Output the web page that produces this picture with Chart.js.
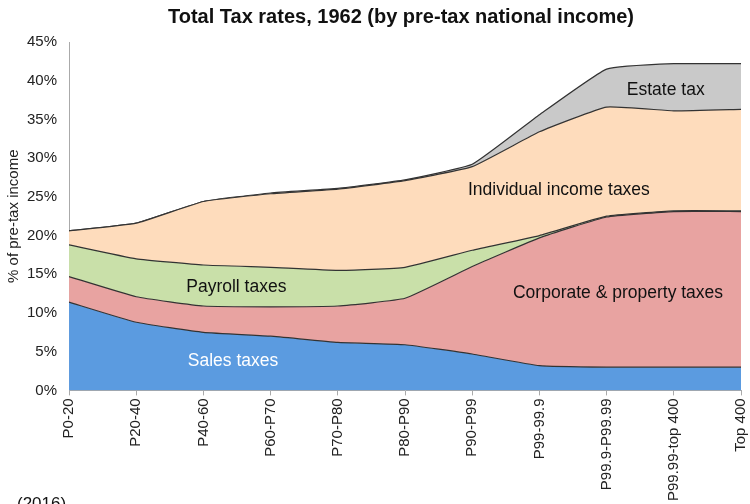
<!DOCTYPE html>
<html>
<head>
<meta charset="utf-8">
<script src="https://cdn.jsdelivr.net/npm/chart.js@4.4.1/dist/chart.umd.min.js"></script>
<style>
  html, body { margin: 0; padding: 0; background: #fff; overflow: hidden; }
  #wrap { position: relative; width: 750px; height: 504px; overflow: hidden; }
  #taxChart { position: absolute; left: 0; top: 0; }
  #title { position: absolute; left: 101px; width: 600px; top: 5px; text-align: center;
           font: bold 20px "Liberation Sans", Arial, sans-serif; color: #111; }
  #note { position: absolute; left: 17px; top: 494px; font: 17px "Liberation Sans", Arial, sans-serif; color: #111; }
</style>
</head>
<body>
<div id="wrap">
  <canvas id="taxChart" width="762" height="504"></canvas>
  <div id="title">Total Tax rates, 1962 (by pre-tax national income)</div>
  <div id="note">(2016)</div>
</div>
<script>
const GROUPS = ['P0-20','P20-40','P40-60','P60-P70','P70-P80','P80-P90','P90-P99','P99-99.9','P99.9-P99.99','P99.99-top 400','Top 400'];

// tax rates, % of pre-tax income (each layer on its own, stacked in the chart)
const salesTaxes     = [11.4, 8.8, 7.5, 7.0, 6.2, 5.9, 4.7, 3.2, 3.0, 3.0, 3.0];
const corporateTaxes = [3.3, 3.3, 3.4, 3.8, 4.7, 6.0, 11.3, 16.5, 19.4, 20.1, 20.1];
const payrollTaxes   = [4.1, 4.9, 5.3, 5.1, 4.6, 4.0, 2.1, 0.3, 0.1, 0.1, 0.1];
const incomeTaxes    = [1.8, 4.6, 8.2, 9.5, 10.5, 11.2, 10.8, 13.4, 14.1, 12.9, 13.1];
const estateTax      = [0.0, 0.0, 0.0, 0.1, 0.1, 0.1, 0.3, 2.2, 4.9, 6.1, 5.9];

// in-area labels: [text, category position, y value, colour]
const AREA_LABELS = [
    ['Sales taxes', 2.44, 3.75, '#ffffff'],
    ['Payroll taxes', 2.49, 13.3, '#111111'],
    ['Corporate & property taxes', 8.17, 12.5, '#111111'],
    ['Individual income taxes', 7.29, 25.9, '#111111'],
    ['Estate tax', 8.88, 38.8, '#111111']
];

const FONT = '"Liberation Sans", Arial, sans-serif';

function layer(label, data, color, fill) {
    return { label, data, backgroundColor: color, borderColor: '#333333', borderWidth: 1.2,
             fill, pointRadius: 0, tension: 0.12 };
}

const areaLabels = {
    id: 'areaLabels',
    afterDatasetsDraw(chart) {
        const { ctx, scales: { x, y } } = chart;
        const x0 = x.getPixelForValue(0), step = x.getPixelForValue(1) - x0;
        ctx.save();
        ctx.font = '17.5px ' + FONT;
        ctx.textAlign = 'center';
        ctx.textBaseline = 'middle';
        AREA_LABELS.forEach(([t, xi, yv, c]) => {
            ctx.fillStyle = c;
            ctx.fillText(t, x0 + xi * step, y.getPixelForValue(yv));
        });
        ctx.restore();
    }
};

new Chart(document.getElementById('taxChart'), {
    type: 'line',
    data: {
        labels: GROUPS,
        datasets: [
            layer('Sales taxes', salesTaxes, '#5b9be0', 'origin'),
            layer('Corporate & property taxes', corporateTaxes, '#e8a3a1', '-1'),
            layer('Payroll taxes', payrollTaxes, '#c9e0a9', '-1'),
            layer('Individual income taxes', incomeTaxes, '#fedcbc', '-1'),
            layer('Estate tax', estateTax, '#c9c9c9', '-1')
        ]
    },
    options: {
        responsive: false,
        animation: false,
        layout: { padding: { left: 5, right: -3, top: 42, bottom: 0 } },
        plugins: {
            legend: { display: false },
            tooltip: { enabled: false },
            title: { display: false }
        },
        scales: {
            x: {
                offset: false,
                grid: { display: true, drawOnChartArea: false, color: '#aaa', tickLength: 5 },
                border: { color: '#aaa' },
                ticks: { font: { family: FONT, size: 15 }, color: '#222', maxRotation: 90, minRotation: 90, autoSkip: false }
            },
            y: {
                stacked: true,
                min: 0, max: 45,
                grid: { display: false },
                border: { color: '#aaa' },
                ticks: { stepSize: 5, padding: 4, font: { family: FONT, size: 15 }, color: '#222', callback: v => v + '%' },
                title: { display: true, text: '% of pre-tax income', font: { family: FONT, size: 15 }, color: '#222', padding: 0 }
            }
        }
    },
    plugins: [areaLabels]
});
</script>
</body>
</html>
